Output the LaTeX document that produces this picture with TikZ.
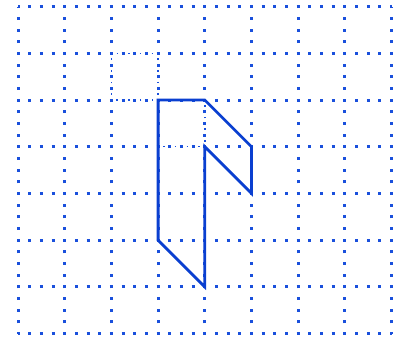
\documentclass[tikz,border=0pt]{standalone}
\usepackage{xcolor}
\usepackage{tikz}
\definecolor{gridblue}{HTML}{1A50DC}
\definecolor{shapeblue}{HTML}{0A3FD0}

\begin{document}
\begin{tikzpicture}[
    griddot/.style={gridblue,line width=1.8pt,dash pattern=on 1.8pt off 5.313pt,dash phase=0.9pt},
    finedot/.style={gridblue,line width=0.9pt,dash pattern=on 0.9pt off 2.657pt,dash phase=0.45pt},
    outline/.style={shapeblue,line width=1.7pt,line join=miter}]
\useasboundingbox (-0.386,-0.1) rectangle (8.33,7.143);
% Dotted grid
\foreach \x in {0,...,8}
    \draw[griddot] (\x,0) -- (\x,7);
\foreach \y in {0,...,7}
    \draw[griddot] (0,\y) -- (8,\y);
% Auxiliary lines
\draw[finedot] (2,5) rectangle (3,6);
\draw[finedot] (3,4) -- (4,4) -- (4,5);
% Figure
\draw[outline] (3,5) -- (4,5) -- (5,4) -- (5,3) -- (4,4) -- (4,1) -- (3,2) -- cycle;
\end{tikzpicture}
\end{document}
